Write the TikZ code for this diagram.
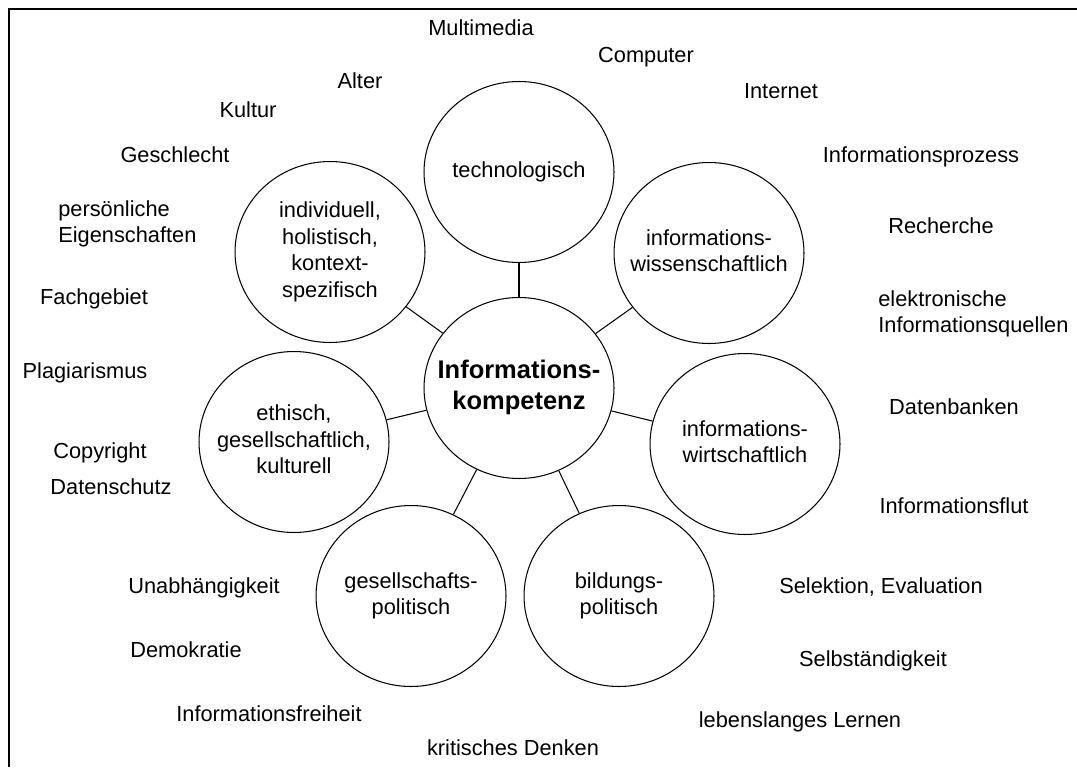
\documentclass[tikz,border=0pt]{standalone}
\usepackage{fontspec}
\setmainfont{Liberation Sans}
\usetikzlibrary{shapes.geometric}
\newcommand{\stack}[1]{\makebox[0pt]{\begin{tabular}{@{}c@{}}#1\end{tabular}}}

\begin{document}
\begin{tikzpicture}[
    x=0.02cm, y=-0.02cm,
    bubble/.style={draw, ellipse, line width=0.6pt, inner sep=0pt, minimum width=3.8cm, minimum height=3.62cm, font=\fontsize{12.4}{15.1}\selectfont},
    hub/.style={bubble, font=\fontsize{14.5}{17.6}\selectfont\bfseries},
    term/.style={inner sep=0pt, font=\fontsize{12.4}{15.1}\selectfont, text height=9pt, text depth=2.6pt},
    terms/.style={inner sep=0pt, anchor=west, align=left, font=\fontsize{12.4}{15.1}\selectfont},
    link/.style={line width=0.6pt}
]
    \useasboundingbox (0,0) rectangle (1077,767);
    \draw[line width=1.2pt] (9,767) -- (9,9) -- (1077,9);

    % centre and the seven dimensions
    \node[hub] (ik) at (519,388) {\stack{Informations-\\kompetenz}};
    \node[bubble] (tech) at (519,172) {\stack{technologisch}};
    \node[bubble] (wiss) at (709,253) {\stack{informations-\\wissenschaftlich}};
    \node[bubble] (wirt) at (745,444) {\stack{informations-\\wirtschaftlich}};
    \node[bubble] (bild) at (619,596) {\stack{bildungs-\\politisch}};
    \node[bubble] (gespol) at (411,596) {\stack{gesellschafts-\\politisch}};
    \node[bubble] (ethik) at (294,442) {\stack{ethisch,\\gesellschaftlich,\\kulturell}};
    \node[bubble] (indiv) at (330,252) {\stack{individuell,\\holistisch,\\kontext-\\spezifisch}};

    \draw[link] (ik) -- (tech);
    \draw[link] (ik) -- (wiss);
    \draw[link] (ik) -- (wirt);
    \draw[link] (ik) -- (bild);
    \draw[link] (ik) -- (gespol);
    \draw[link] (ik) -- (ethik);
    \draw[link] (ik) -- (indiv);

    % keywords around
    \node[term] (multimedia) at (481,30) {Multimedia};
    \node[term] (computer) at (646,57) {Computer};
    \node[term] (alter) at (360,83) {Alter};
    \node[term] (internet) at (781,93) {Internet};
    \node[term] (kultur) at (248,112) {Kultur};
    \node[term] (geschlecht) at (175,157) {Geschlecht};
    \node[term] (prozess) at (921,157) {Informationsprozess};
    \node[terms] (eigen) at (58,224) {persönliche\\Eigenschaften};
    \node[term] (recherche) at (941,228) {Recherche};
    \node[terms] (quellen) at (878,314) {elektronische\\Informationsquellen};
    \node[term] (fach) at (94,299) {Fachgebiet};
    \node[term] (plagiat) at (85,373) {Plagiarismus};
    \node[term] (datenbanken) at (954,409) {Datenbanken};
    \node[term] (copyright) at (100,453) {Copyright};
    \node[term] (datenschutz) at (111,489) {Datenschutz};
    \node[term] (flut) at (954,508) {Informationsflut};
    \node[term] (unabh) at (204,588) {Unabhängigkeit};
    \node[term] (selektion) at (881,588) {Selektion, Evaluation};
    \node[term] (demokratie) at (186,652) {Demokratie};
    \node[term] (selbst) at (873,661) {Selbständigkeit};
    \node[term] (freiheit) at (269,716) {Informationsfreiheit};
    \node[term] (lernen) at (800,722) {lebenslanges Lernen};
    \node[term] (denken) at (513,750) {kritisches Denken};
\end{tikzpicture}
\end{document}
